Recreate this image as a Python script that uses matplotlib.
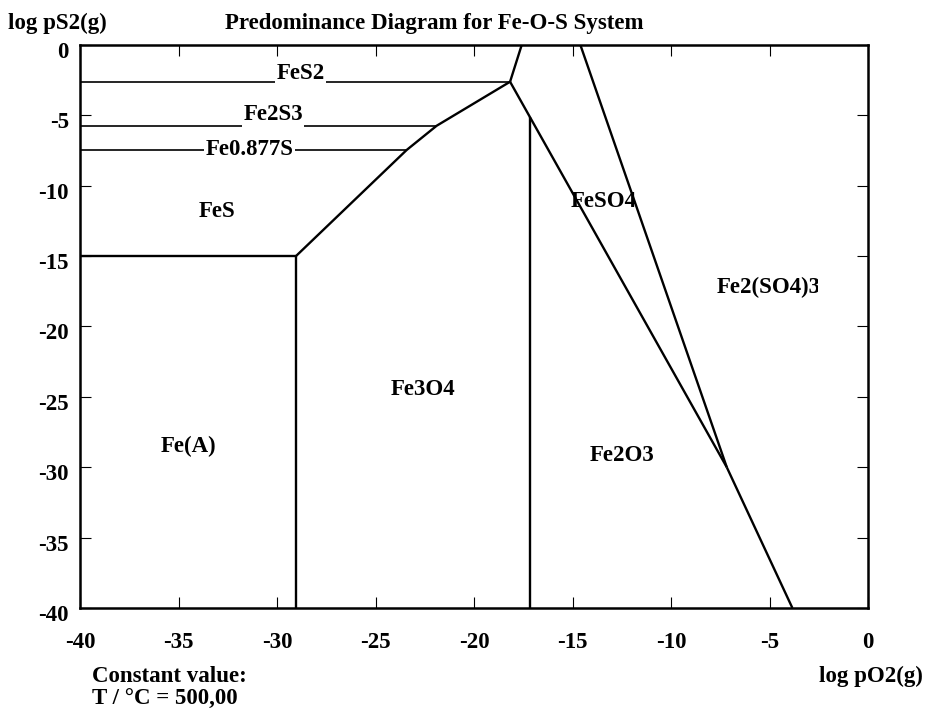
import numpy as np
import matplotlib.pyplot as plt
from matplotlib.patches import Rectangle
from matplotlib.transforms import ScaledTranslation

plt.rcParams['font.family'] = ['Liberation Serif', 'DejaVu Serif']
plt.rcParams['font.weight'] = 'bold'
plt.rcParams['axes.unicode_minus'] = False

# phase boundaries (log pO2, log pS2), T = 500 C
fes2_x = [-40, -18.17]
fes2_y = [-2.61, -2.61]
fe2s3_x = [-40, -21.9]
fe2s3_y = [-5.74, -5.74]
fe0877_x = [-40, -23.42]
fe0877_y = [-7.46, -7.46]
fes_x = [-40, -29.04]
fes_y = [-15, -15]
fe_x = [-29.04, -29.04]
fe_y = [-15, -40]
sulf_ox_x = [-29.04, -23.42, -21.9, -18.17]
sulf_ox_y = [-15, -7.46, -5.74, -2.61]
top_x = [-18.17, -17.58]
top_y = [-2.61, 0]
feso4_x = [-18.17, -7.17]
feso4_y = [-2.61, -30.0]
magn_x = [-17.16, -17.16]
magn_y = [-5.12, -40]
sulfate_x = [-14.6, -7.17]
sulfate_y = [0, -30.0]
hem_x = [-7.17, -3.84]
hem_y = [-30.0, -40]

thin_lines = [(fes2_x, fes2_y), (fe2s3_x, fe2s3_y), (fe0877_x, fe0877_y)]
thick_lines = [(fes_x, fes_y), (fe_x, fe_y), (sulf_ox_x, sulf_ox_y),
               (top_x, top_y), (feso4_x, feso4_y), (magn_x, magn_y),
               (sulfate_x, sulfate_y), (hem_x, hem_y)]

# region labels
names = ['FeS', 'Fe3O4', 'Fe(A)', 'Fe2O3', 'FeSO4']
name_x = [-33.06, -22.6, -34.5, -12.5, -13.4]
name_y = [-11.85, -24.5, -28.5, -29.2, -11.1]
# labels sitting on the horizontal lines
line_names = ['FeS2', 'Fe2S3', 'Fe0.877S']
line_name_x = [-28.8, -30.2, -31.4]
line_name_y = [-2.0, -4.95, -7.4]

fs = 16.5

fig = plt.figure(figsize=(9.26, 7.1), dpi=100)
ax = fig.add_axes([0.0864, 0.1437, 0.851, 0.7929])

for xs, ys in thin_lines:
    ax.plot(xs, ys, color='black', lw=1.2, solid_capstyle='butt')
for xs, ys in thick_lines:
    ax.plot(xs, ys, color='black', lw=1.7, solid_capstyle='butt')

for n, x, y in zip(names, name_x, name_y):
    ax.text(x, y, n, ha='center', va='center', fontsize=fs, fontweight='bold')
for n, x, y in zip(line_names, line_name_x, line_name_y):
    ax.text(x, y, n, ha='center', va='center', fontsize=fs, fontweight='bold',
            bbox=dict(facecolor='white', edgecolor='none', pad=1.0))

# Fe2(SO4)3 label is cut off on the right in the original
t = ax.text(-7.66, -17.2, 'Fe2(SO4)3', ha='left', va='center', fontsize=fs,
            fontweight='bold', clip_on=True)
t.set_clip_path(Rectangle((-40, -40), 37.46, 40, transform=ax.transData))

ax.set_xlim(-40, 0)
ax.set_ylim(-40, 0)
ax.set_xticks(np.arange(-40, 1, 5))
ax.set_yticks(np.arange(-40, 1, 5))
ax.tick_params(direction='in', length=8, width=0.8, top=True, right=True,
               labelsize=fs)
ax.tick_params(axis='x', pad=17)
ax.tick_params(axis='y', pad=8)
shift = ScaledTranslation(0, -0.05, fig.dpi_scale_trans)
for lab in ax.get_yticklabels():
    lab.set_transform(lab.get_transform() + shift)
for lab in ax.get_xticklabels() + ax.get_yticklabels():
    lab.set_fontweight('bold')
for s in ax.spines.values():
    s.set_linewidth(1.8)

fig.text(0.009, 0.967, 'log pS2(g)', ha='left', va='center', fontsize=fs, fontweight='bold')
fig.text(0.469, 0.967, 'Predominance Diagram for Fe-O-S System', ha='center',
         va='center', fontsize=fs, fontweight='bold')
fig.text(0.0994, 0.047, 'Constant value:', ha='left', va='center', fontsize=fs, fontweight='bold')
fig.text(0.0994, 0.015, 'T / °C = 500,00', ha='left', va='center', fontsize=fs, fontweight='bold')
fig.text(0.997, 0.047, 'log pO2(g)', ha='right', va='center', fontsize=fs, fontweight='bold')

fig.savefig('out.png', dpi=100)
